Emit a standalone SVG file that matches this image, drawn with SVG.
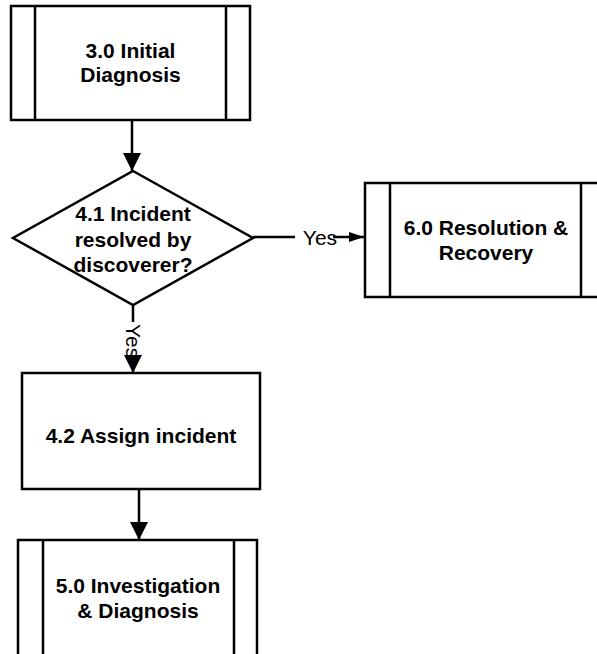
<svg xmlns="http://www.w3.org/2000/svg" width="597" height="654" viewBox="0 0 597 654">
<style>
.shape{fill:#fff;stroke:#000;stroke-width:2.5}
.ln{fill:none;stroke:#000;stroke-width:2.5}
.t{font-family:"Liberation Sans",Arial,sans-serif;font-size:21px;font-weight:bold;text-anchor:middle;fill:#000}
.lbl{font-family:"Liberation Sans",Arial,sans-serif;font-size:21px;text-anchor:middle;fill:#000}
</style>
<defs>
<marker id="big" markerUnits="userSpaceOnUse" markerWidth="20" markerHeight="20" refX="18" refY="9" orient="auto"><path d="M0,0 L18,9 L0,18 Z" fill="#000"/></marker>
<marker id="small" markerUnits="userSpaceOnUse" markerWidth="16" markerHeight="12" refX="15" refY="5" orient="auto"><path d="M0,0 L15,5 L0,10 Z" fill="#000"/></marker>
</defs>
<g id="connectors">
<line class="ln" x1="132" y1="120" x2="132" y2="171" marker-end="url(#big)"/>
<line class="ln" x1="253" y1="237" x2="295" y2="237"/>
<line class="ln" x1="333" y1="237" x2="364" y2="237" marker-end="url(#small)"/>
<text class="lbl" x="320" y="245">Yes</text>
<line class="ln" x1="133" y1="305" x2="133" y2="322"/>
<line class="ln" x1="133" y1="355" x2="133" y2="373" marker-end="url(#big)"/>
<text class="lbl" transform="translate(126,341) rotate(90)" x="0" y="0">Yes</text>
<line class="ln" x1="139" y1="489" x2="139" y2="540" marker-end="url(#big)"/>
</g>
<g id="n30">
<rect class="shape" x="11" y="6" width="239" height="114"/>
<line class="ln" x1="35" y1="6" x2="35" y2="120"/>
<line class="ln" x1="226" y1="6" x2="226" y2="120"/>
<text class="t" x="130.5" y="58">3.0 Initial</text>
<text class="t" x="130.5" y="82">Diagnosis</text>
</g>
<g id="n41">
<polygon class="shape" points="133,171 253,238 133,305 13,238"/>
<text class="t" x="133" y="221">4.1 Incident</text>
<text class="t" x="133" y="247">resolved by</text>
<text class="t" x="133" y="272">discoverer?</text>
</g>
<g id="n60">
<rect class="shape" x="365" y="183" width="239" height="114"/>
<line class="ln" x1="390" y1="183" x2="390" y2="297"/>
<line class="ln" x1="581" y1="183" x2="581" y2="297"/>
<text class="t" x="486" y="235">6.0 Resolution &amp;</text>
<text class="t" x="486" y="260">Recovery</text>
</g>
<g id="n42">
<rect class="shape" x="22" y="373" width="238" height="116"/>
<text class="t" x="141" y="443">4.2 Assign incident</text>
</g>
<g id="n50">
<rect class="shape" x="18" y="540" width="239" height="116"/>
<line class="ln" x1="43" y1="540" x2="43" y2="656"/>
<line class="ln" x1="234" y1="540" x2="234" y2="656"/>
<text class="t" x="138" y="593">5.0 Investigation</text>
<text class="t" x="138" y="618">&amp; Diagnosis</text>
</g>
</svg>
